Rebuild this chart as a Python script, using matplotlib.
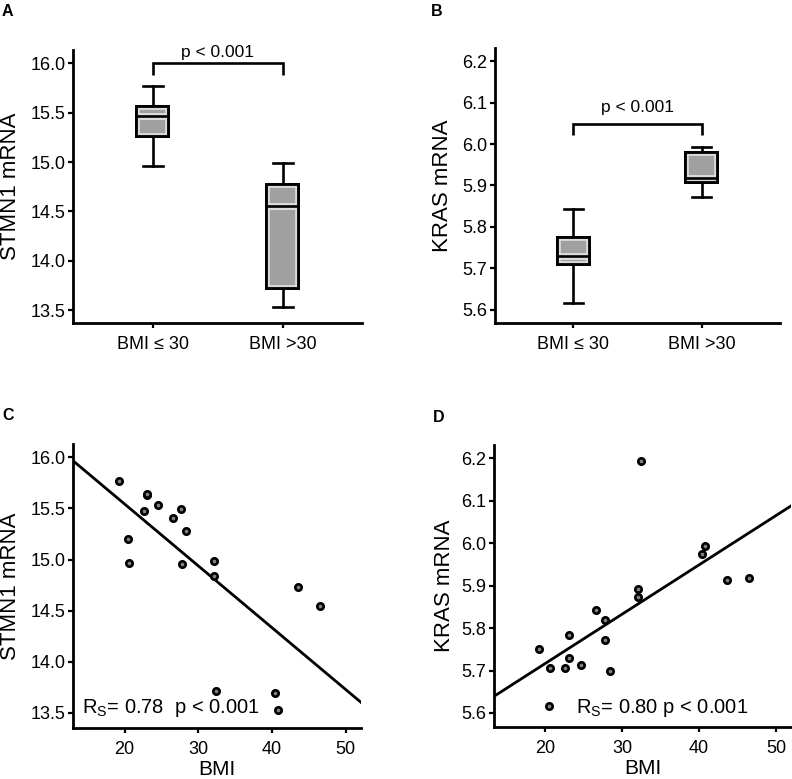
import numpy as np
import matplotlib
matplotlib.use("Agg")
import matplotlib.pyplot as plt
import matplotlib.patheffects as pe
from matplotlib.patches import PathPatch

plt.rcParams['font.family'] = ['Liberation Sans', 'DejaVu Sans']
plt.rcParams['mathtext.fontset'] = 'custom'
plt.rcParams['mathtext.rm'] = 'Liberation Sans'

# ---- data ----
bmi = [19.2, 20.4, 20.6, 22.6, 23.0, 23.0, 24.6, 26.6, 27.7, 27.8, 28.4,
       32.1, 32.1, 32.4, 40.4, 40.8, 43.6, 46.5]
stmn1 = [15.77, 15.20, 14.97, 15.47, 15.63, 15.64, 15.53, 15.41, 15.49, 14.96, 15.28,
         14.99, 14.84, 13.71, 13.70, 13.53, 14.73, 14.55]
kras = [5.751, 5.616, 5.707, 5.706, 5.729, 5.784, 5.714, 5.843, 5.818, 5.773, 5.700,
        5.892, 5.872, 6.194, 5.975, 5.993, 5.913, 5.918]
group_labels = ['BMI \u2264 30', 'BMI >30']
bmi_cut = 30
rs_texts = ['0.78', '0.80']
p_text = 'p < 0.001'

bmi = np.array(bmi)
stmn1 = np.array(stmn1)
kras = np.array(kras)
low = bmi <= bmi_cut

W, H = 792, 779
fig = plt.figure(figsize=(W / 100, H / 100), dpi=100)

def rect(l, t, r, b):
    return [l / W, 1 - b / H, (r - l) / W, (b - t) / H]

axA = fig.add_axes(rect(73, 50, 362, 323))
axB = fig.add_axes(rect(495, 48, 780, 323))
axC = fig.add_axes(rect(73, 444, 361, 728))
axD = fig.add_axes(rect(494, 445, 791, 727))

LIGHT = '#dcdcdc'
GRAY = '#a0a0a0'

def style(ax):
    for s in ['top', 'right']:
        ax.spines[s].set_visible(False)
    for s in ['left', 'bottom']:
        ax.spines[s].set_linewidth(2.0)
    ax.tick_params(axis='both', direction='out', length=3.5, width=1.6,
                   labelsize=13, pad=2, colors='black')
    ax.tick_params(axis='x', pad=6)

def boxes(ax, values):
    bp = ax.boxplot(values, positions=[1, 2], widths=0.27, capwidths=0.15,
                    whis=1.5, showfliers=False, patch_artist=True,
                    boxprops=dict(facecolor=GRAY, edgecolor=LIGHT, linewidth=7),
                    whiskerprops=dict(color='black', linewidth=1.9),
                    capprops=dict(color='black', linewidth=1.9),
                    medianprops=dict(color='black', linewidth=1.9))
    for box, med in zip(bp['boxes'], bp['medians']):
        box.set_clip_path(box)
        edge = PathPatch(box.get_path(), transform=box.get_transform(),
                         facecolor='none', edgecolor='black', linewidth=4.2, zorder=box.get_zorder() + 0.1)
        ax.add_patch(edge)
        edge.set_clip_path(box)
        med.set_path_effects([pe.Stroke(linewidth=5, foreground=LIGHT), pe.Normal()])
        med.set_clip_path(box)
        med.set_zorder(box.get_zorder() + 0.05)
    return bp

def bracket(ax, ytop, ylow, ytext):
    ax.plot([1, 1, 2, 2], [ylow, ytop, ytop, ylow], color='black', lw=1.9,
            solid_joinstyle='miter', solid_capstyle='butt')
    ax.text(1.5, ytext, p_text, ha='center', va='center', fontsize=12.5)

# Panel A
style(axA)
boxes(axA, [stmn1[low], stmn1[~low]])
axA.set_xlim(0.385, 2.61)
axA.set_ylim(13.37, 16.135)
axA.set_yticks([13.5, 14.0, 14.5, 15.0, 15.5, 16.0])
axA.set_yticklabels(['13.5', '14.0', '14.5', '15.0', '15.5', '16.0'])
axA.set_xticks([1, 2])
axA.set_xticklabels(group_labels)
axA.set_ylabel('STMN1 mRNA', fontsize=16)
axA.yaxis.set_label_coords(-0.18, 0.5)
bracket(axA, 16.0, 15.88, 16.105)

# Panel B
style(axB)
boxes(axB, [kras[low], kras[~low]])
axB.set_xlim(0.39, 2.61)
axB.set_ylim(5.568, 6.232)
axB.set_yticks([5.6, 5.7, 5.8, 5.9, 6.0, 6.1, 6.2])
axB.set_yticklabels(['5.6', '5.7', '5.8', '5.9', '6.0', '6.1', '6.2'])
axB.set_xticks([1, 2])
axB.set_xticklabels(group_labels)
axB.set_ylabel('KRAS mRNA', fontsize=16)
axB.yaxis.set_label_coords(-0.148, 0.5)
bracket(axB, 6.049, 6.022, 6.088)

def scatter(ax, x, y, xlim):
    ax.plot(x, y, 'o', ms=4.6, mfc='#808080', mec='black', mew=1.9, zorder=3)
    k, b = np.polyfit(x, y, 1)
    xx = np.array(xlim)
    ax.plot(xx, k * xx + b, color='black', lw=2.0, zorder=2, clip_on=True)
    ax.set_xlim(*xlim)
    ax.set_xticks([20, 30, 40, 50])
    ax.set_xlabel('BMI', fontsize=15, labelpad=1)

# Panel C
style(axC)
scatter(axC, bmi, stmn1, (13.0, 52.1))
axC.set_ylim(13.353, 16.13)
axC.set_yticks([13.5, 14.0, 14.5, 15.0, 15.5, 16.0])
axC.set_yticklabels(['13.5', '14.0', '14.5', '15.0', '15.5', '16.0'])
axC.set_ylabel('STMN1 mRNA', fontsize=16)
axC.yaxis.set_label_coords(-0.18, 0.5)
axC.text(0.03, 0.03, r'R$_\mathregular{S}$= ' + rs_texts[0] + '  ' + p_text,
         transform=axC.transAxes, fontsize=14.5, ha='left', va='bottom')

# Panel D
style(axD)
scatter(axD, bmi, kras, (13.3, 51.95))
axD.set_ylim(5.567, 6.231)
axD.set_yticks([5.6, 5.7, 5.8, 5.9, 6.0, 6.1, 6.2])
axD.set_yticklabels(['5.6', '5.7', '5.8', '5.9', '6.0', '6.1', '6.2'])
axD.set_ylabel('KRAS mRNA', fontsize=16)
axD.yaxis.set_label_coords(-0.132, 0.5)
axD.text(0.275, 0.03, r'R$_\mathregular{S}$= ' + rs_texts[1] + ' ' + p_text,
         transform=axD.transAxes, fontsize=14.5, ha='left', va='bottom')

# panel letters
for lab, (x, y) in zip('ABCD', [(2, 4), (431, 4), (2, 408), (433, 410)]):
    fig.text(x / W, 1 - y / H, lab, fontsize=11.5, fontweight='bold', ha='left', va='top')

fig.savefig('out.png', dpi=100)
